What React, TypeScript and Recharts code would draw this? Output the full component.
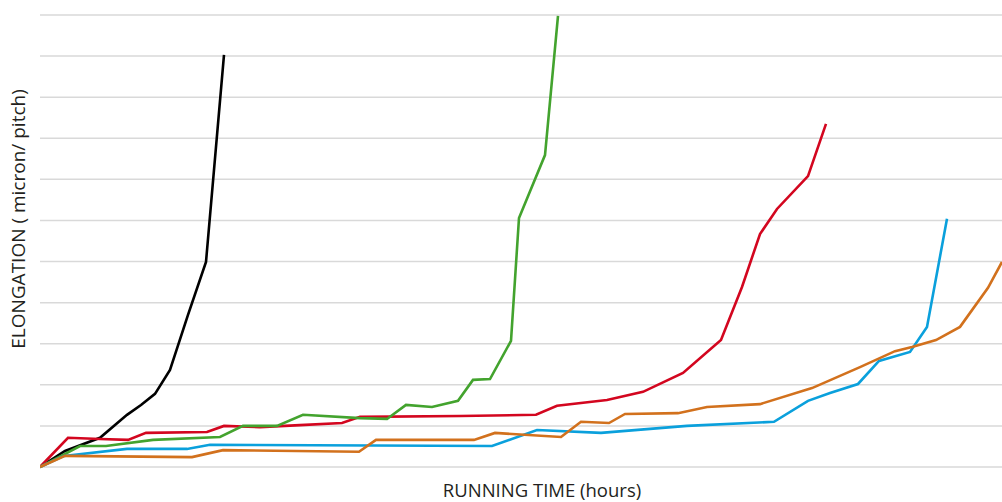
import React from 'react';
import { LineChart, Line, XAxis, YAxis, CartesianGrid } from 'recharts';

// Running time (hours) and elongation (arbitrary units)
const blackHours = [0, 12.5, 30, 43.5, 50.5, 57.5, 65, 74, 83, 92];
const blackElong = [0, 3.9, 7.1, 12.7, 15.1, 17.8, 23.6, 37.0, 49.9, 100.3];

const redHours = [0, 14, 30, 44, 53, 83.5, 92, 110, 130, 151, 160, 210, 248, 258.5, 283.5, 301.5, 321.5, 340.5, 351, 360, 368.5, 384, 393];
const redElong = [0, 7.1, 6.8, 6.6, 8.3, 8.5, 10.0, 9.7, 10.2, 10.7, 12.2, 12.4, 12.7, 14.9, 16.3, 18.3, 22.9, 30.9, 43.8, 56.7, 62.8, 70.8, 83.5];

const greenHours = [0, 20, 33, 56.5, 90, 101.5, 118.5, 131.5, 160, 173.5, 183, 196, 209, 216.5, 225, 235.5, 239.5, 252.5, 259];
const greenElong = [0, 5.1, 5.1, 6.6, 7.3, 10.0, 10.0, 12.7, 11.9, 11.7, 15.1, 14.6, 16.1, 21.2, 21.4, 30.7, 60.6, 75.9, 109.8];

const blueHours = [0, 12, 43.5, 73.5, 85, 226, 248.5, 280.5, 323.5, 367, 384, 395, 409, 419.5, 435, 443.5, 453.5];
const blueElong = [0, 2.7, 4.4, 4.4, 5.4, 5.1, 9.0, 8.3, 10.0, 11.0, 16.1, 18.0, 20.2, 25.8, 28.0, 34.1, 60.4];

const orangeHours = [0, 12.5, 76, 91.5, 159.5, 168, 217, 227.5, 260.5, 270.5, 284.5, 292.5, 319, 333.5, 360, 386, 410, 427.5, 436, 448, 460, 474, 481];
const orangeElong = [0, 2.7, 2.4, 4.1, 3.7, 6.6, 6.6, 8.3, 7.3, 11.0, 10.7, 12.9, 13.1, 14.6, 15.3, 19.2, 24.3, 28.2, 29.2, 30.9, 34.1, 43.6, 49.9];

const yTicks = [0, 10, 20, 30, 40, 50, 60, 70, 80, 90, 100, 110];

const toRows = (hours: number[], elong: number[]) =>
  hours.map((h, i) => ({ hours: h, value: elong[i] }));

const series = [
  { name: 'black', color: '#000000', data: toRows(blackHours, blackElong) },
  { name: 'red', color: '#d3061f', data: toRows(redHours, redElong) },
  { name: 'green', color: '#43a32e', data: toRows(greenHours, greenElong) },
  { name: 'blue', color: '#0aa0dc', data: toRows(blueHours, blueElong) },
  { name: 'orange', color: '#d2711d', data: toRows(orangeHours, orangeElong) },
];

const FONT = '"Open Sans", "Noto Sans", sans-serif';

const NoTick = () => <g />;

export default function App() {
  return (
    <div style={{ position: 'fixed', left: 0, top: 0, width: 1002, height: 502, background: '#fff' }}>
      <LineChart width={1002} height={502} margin={{ top: 15, right: 0, bottom: 0, left: 0 }}>
        <CartesianGrid horizontal vertical={false} stroke="#d9d9d9" strokeWidth={1.5} />
        <XAxis
          dataKey="hours"
          type="number"
          domain={[0, 481]}
          allowDataOverflow
          height={35}
          axisLine={false}
          tickLine={false}
          tick={false}
          label={{
            value: 'RUNNING TIME (hours)',
            position: 'center',
            dx: 21,
            dy: 6,
            fill: '#231f20',
            fontSize: 18.5,
            fontFamily: FONT,
          }}
        />
        <YAxis
          type="number"
          domain={[0, 110]}
          ticks={yTicks}
          interval={0}
          width={40}
          axisLine={false}
          tickLine={false}
          tick={<NoTick />}
          label={{
            value: 'ELONGATION ( micron/ pitch)',
            angle: -90,
            position: 'center',
            dx: -2,
            dy: -22,
            fill: '#231f20',
            fontSize: 19,
            fontFamily: FONT,
          }}
        />
        {series.map((s) => (
          <Line
            key={s.name}
            data={s.data}
            dataKey="value"
            type="linear"
            stroke={s.color}
            strokeWidth={2.6}
            dot={false}
            activeDot={false}
            isAnimationActive={false}
          />
        ))}
      </LineChart>
    </div>
  );
}
